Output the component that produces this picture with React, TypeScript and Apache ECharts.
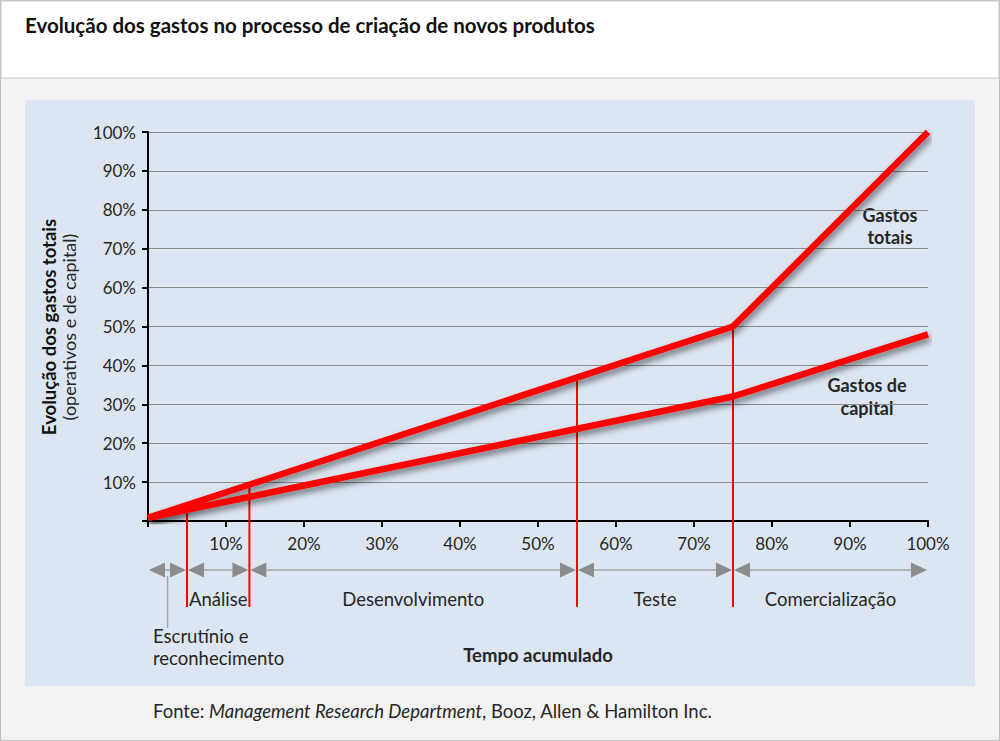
import React, { useEffect, useRef } from "react";
import * as echarts from "echarts";

const xTicks = [0, 10, 20, 30, 40, 50, 60, 70, 80, 90, 100];
const totalSpend = [[0, 0.8], [75, 50], [100, 100]];
const capitalSpend = [[0, 0.8], [75, 32], [100, 48]];
const phaseBounds = [0, 5, 13, 55, 75, 100];
const phaseNames = ["Escrutínio e\nreconhecimento", "Análise", "Desenvolvimento", "Teste", "Comercialização"];
const dividerTops = [[5, 3], [13, 8.7], [55, 36.7], [75, 50]];

const FONT = "Lato, 'Open Sans', sans-serif";
const TXT = "#262626";

export default function App() {
  const ref = useRef<HTMLDivElement>(null);
  useEffect(() => {
    document.body.style.margin = "0";
    const chart = echarts.init(ref.current!, null, { renderer: "svg" });
    const phaseData = phaseNames.map((n, i) => [phaseBounds[i], phaseBounds[i + 1], i]);
    const option: any = {
      animation: false,
      textStyle: { fontFamily: FONT },
      grid: { left: 148, top: 132, width: 780, height: 389, containLabel: false },
      xAxis: {
        type: "value",
        min: 0,
        max: 100,
        interval: 10,
        name: "Tempo acumulado",
        nameLocation: "middle",
        nameGap: 124,
        nameTextStyle: { fontFamily: FONT, fontWeight: "bold", fontSize: 18.5, color: TXT },
        axisLine: { show: true, lineStyle: { color: "#000", width: 2 } },
        axisTick: { show: true, length: 6, lineStyle: { color: "#000", width: 2 } },
        axisLabel: {
          margin: 14,
          fontSize: 17,
          color: TXT,
          fontFamily: FONT,
          formatter: (v: number) => (v === 0 ? "" : v + "%"),
        },
        splitLine: { show: false },
      },
      yAxis: {
        type: "value",
        min: 0,
        max: 100,
        interval: 10,
        axisLine: { show: true, lineStyle: { color: "#000", width: 2 } },
        axisTick: { show: true, length: 6, lineStyle: { color: "#000", width: 2 } },
        axisLabel: {
          margin: 12,
          fontSize: 17,
          color: TXT,
          fontFamily: FONT,
          formatter: (v: number) => (v === 0 ? "" : v + "%"),
        },
        splitLine: { show: true, lineStyle: { color: "#8c8c8c", width: 1 } },
      },
      graphic: [
        { type: "rect", z: -100, shape: { x: 0, y: 0, width: 1000, height: 741 }, style: { fill: "#f2f2f2", stroke: "#bfbfbf", lineWidth: 2 } },
        { type: "rect", z: -99, shape: { x: 1, y: 1, width: 998, height: 77 }, style: { fill: "#ffffff", stroke: "#c8c8c8", lineWidth: 1 } },
        { type: "rect", z: -98, shape: { x: 25, y: 100, width: 950, height: 586 }, style: { fill: "#dce6f2" } },
        {
          type: "text", x: 25, y: 25,
          style: { text: "Evolução dos gastos no processo de criação de novos produtos", fontFamily: FONT, fontWeight: "bold", fontSize: 20.5, fill: "#111", verticalAlign: "middle" },
        },
        {
          type: "text", x: 49, y: 327, rotation: Math.PI / 2,
          style: { text: "Evolução dos gastos totais", fontFamily: FONT, fontWeight: "bold", fontSize: 18.5, fill: "#111", align: "center", verticalAlign: "middle" },
        },
        {
          type: "text", x: 69, y: 327, rotation: Math.PI / 2,
          style: { text: "(operativos e de capital)", fontFamily: FONT, fontSize: 18, fill: TXT, align: "center", verticalAlign: "middle" },
        },
        {
          type: "text", x: 890, y: 226,
          style: { text: "Gastos\ntotais", fontFamily: FONT, fontWeight: "bold", fontSize: 18, lineHeight: 22, fill: TXT, align: "center", verticalAlign: "middle" },
        },
        {
          type: "text", x: 867, y: 396,
          style: { text: "Gastos de\ncapital", fontFamily: FONT, fontWeight: "bold", fontSize: 18, lineHeight: 23, fill: TXT, align: "center", verticalAlign: "middle" },
        },
        {
          type: "text", x: 153, y: 711,
          style: {
            text: "{a|Fonte: }{b|Management Research Department}{a|, Booz, Allen & Hamilton Inc.}",
            verticalAlign: "middle",
            rich: {
              a: { fontFamily: FONT, fontSize: 18.5, fill: TXT, color: TXT },
              b: { fontFamily: FONT, fontSize: 18.5, fontStyle: "italic", fill: TXT, color: TXT },
            },
          },
        },
      ],
      series: [
        {
          type: "custom",
          z: 1,
          clip: false,
          data: dividerTops,
          encode: { x: 0, y: 1 },
          renderItem: (params: any, api: any) => {
            const top = api.coord([api.value(0), api.value(1)]);
            const base = api.coord([api.value(0), 0]);
            return {
              type: "line",
              shape: { x1: top[0], y1: top[1], x2: top[0], y2: base[1] + 86 },
              style: { stroke: "#ff0000", lineWidth: 2 },
            };
          },
        },
        {
          type: "custom",
          z: 1,
          clip: false,
          data: phaseData,
          encode: { x: [0, 1] },
          renderItem: (params: any, api: any) => {
            const s = api.value(0);
            const e = api.value(1);
            const idx = api.value(2);
            const p1 = api.coord([s, 0]);
            const p2 = api.coord([e, 0]);
            const y = p1[1] + 49;
            const x1 = p1[0] + 1;
            const x2 = p2[0] - 1;
            const ah = 16;
            const aw = 7.5;
            const gray = "#8c8c8c";
            const children: any[] = [
              { type: "line", shape: { x1: x1 + ah, y1: y, x2: x2 - ah, y2: y }, style: { stroke: "#a6a6a6", lineWidth: 1.5 } },
              { type: "polygon", shape: { points: [[x1, y], [x1 + ah, y - aw], [x1 + ah, y + aw]] }, style: { fill: gray } },
              { type: "polygon", shape: { points: [[x2, y], [x2 - ah, y - aw], [x2 - ah, y + aw]] }, style: { fill: gray } },
            ];
            const mid = (p1[0] + p2[0]) / 2;
            const name = phaseNames[idx];
            if (idx === 0) {
              children.push({ type: "line", shape: { x1: mid, y1: y + 6, x2: mid, y2: y + 58 }, style: { stroke: "#a6a6a6", lineWidth: 1.5 } });
              children.push({
                type: "text",
                x: p1[0] + 5,
                y: y + 55,
                style: { text: name, fontFamily: FONT, fontSize: 18.5, lineHeight: 22, fill: TXT, align: "left", verticalAlign: "top" },
              });
            } else {
              children.push({
                type: "text",
                x: mid,
                y: y + 29,
                style: { text: name, fontFamily: FONT, fontSize: 18.5, fill: TXT, align: "center", verticalAlign: "middle" },
              });
            }
            return { type: "group", children };
          },
        },
        {
          type: "line",
          name: "Gastos totais",
          z: 3,
          data: totalSpend,
          symbol: "none",
          lineStyle: { color: "#ff0000", width: 6.5, shadowColor: "rgba(0,0,0,0.5)", shadowBlur: 6, shadowOffsetX: 2, shadowOffsetY: 4 },
        },
        {
          type: "line",
          name: "Gastos de capital",
          z: 3,
          data: capitalSpend,
          symbol: "none",
          lineStyle: { color: "#ff0000", width: 6.5, shadowColor: "rgba(0,0,0,0.5)", shadowBlur: 6, shadowOffsetX: 2, shadowOffsetY: 4 },
        },
      ],
    };
    chart.setOption(option);
    return () => chart.dispose();
  }, []);
  return <div ref={ref} style={{ width: 1000, height: 741 }} />;
}
